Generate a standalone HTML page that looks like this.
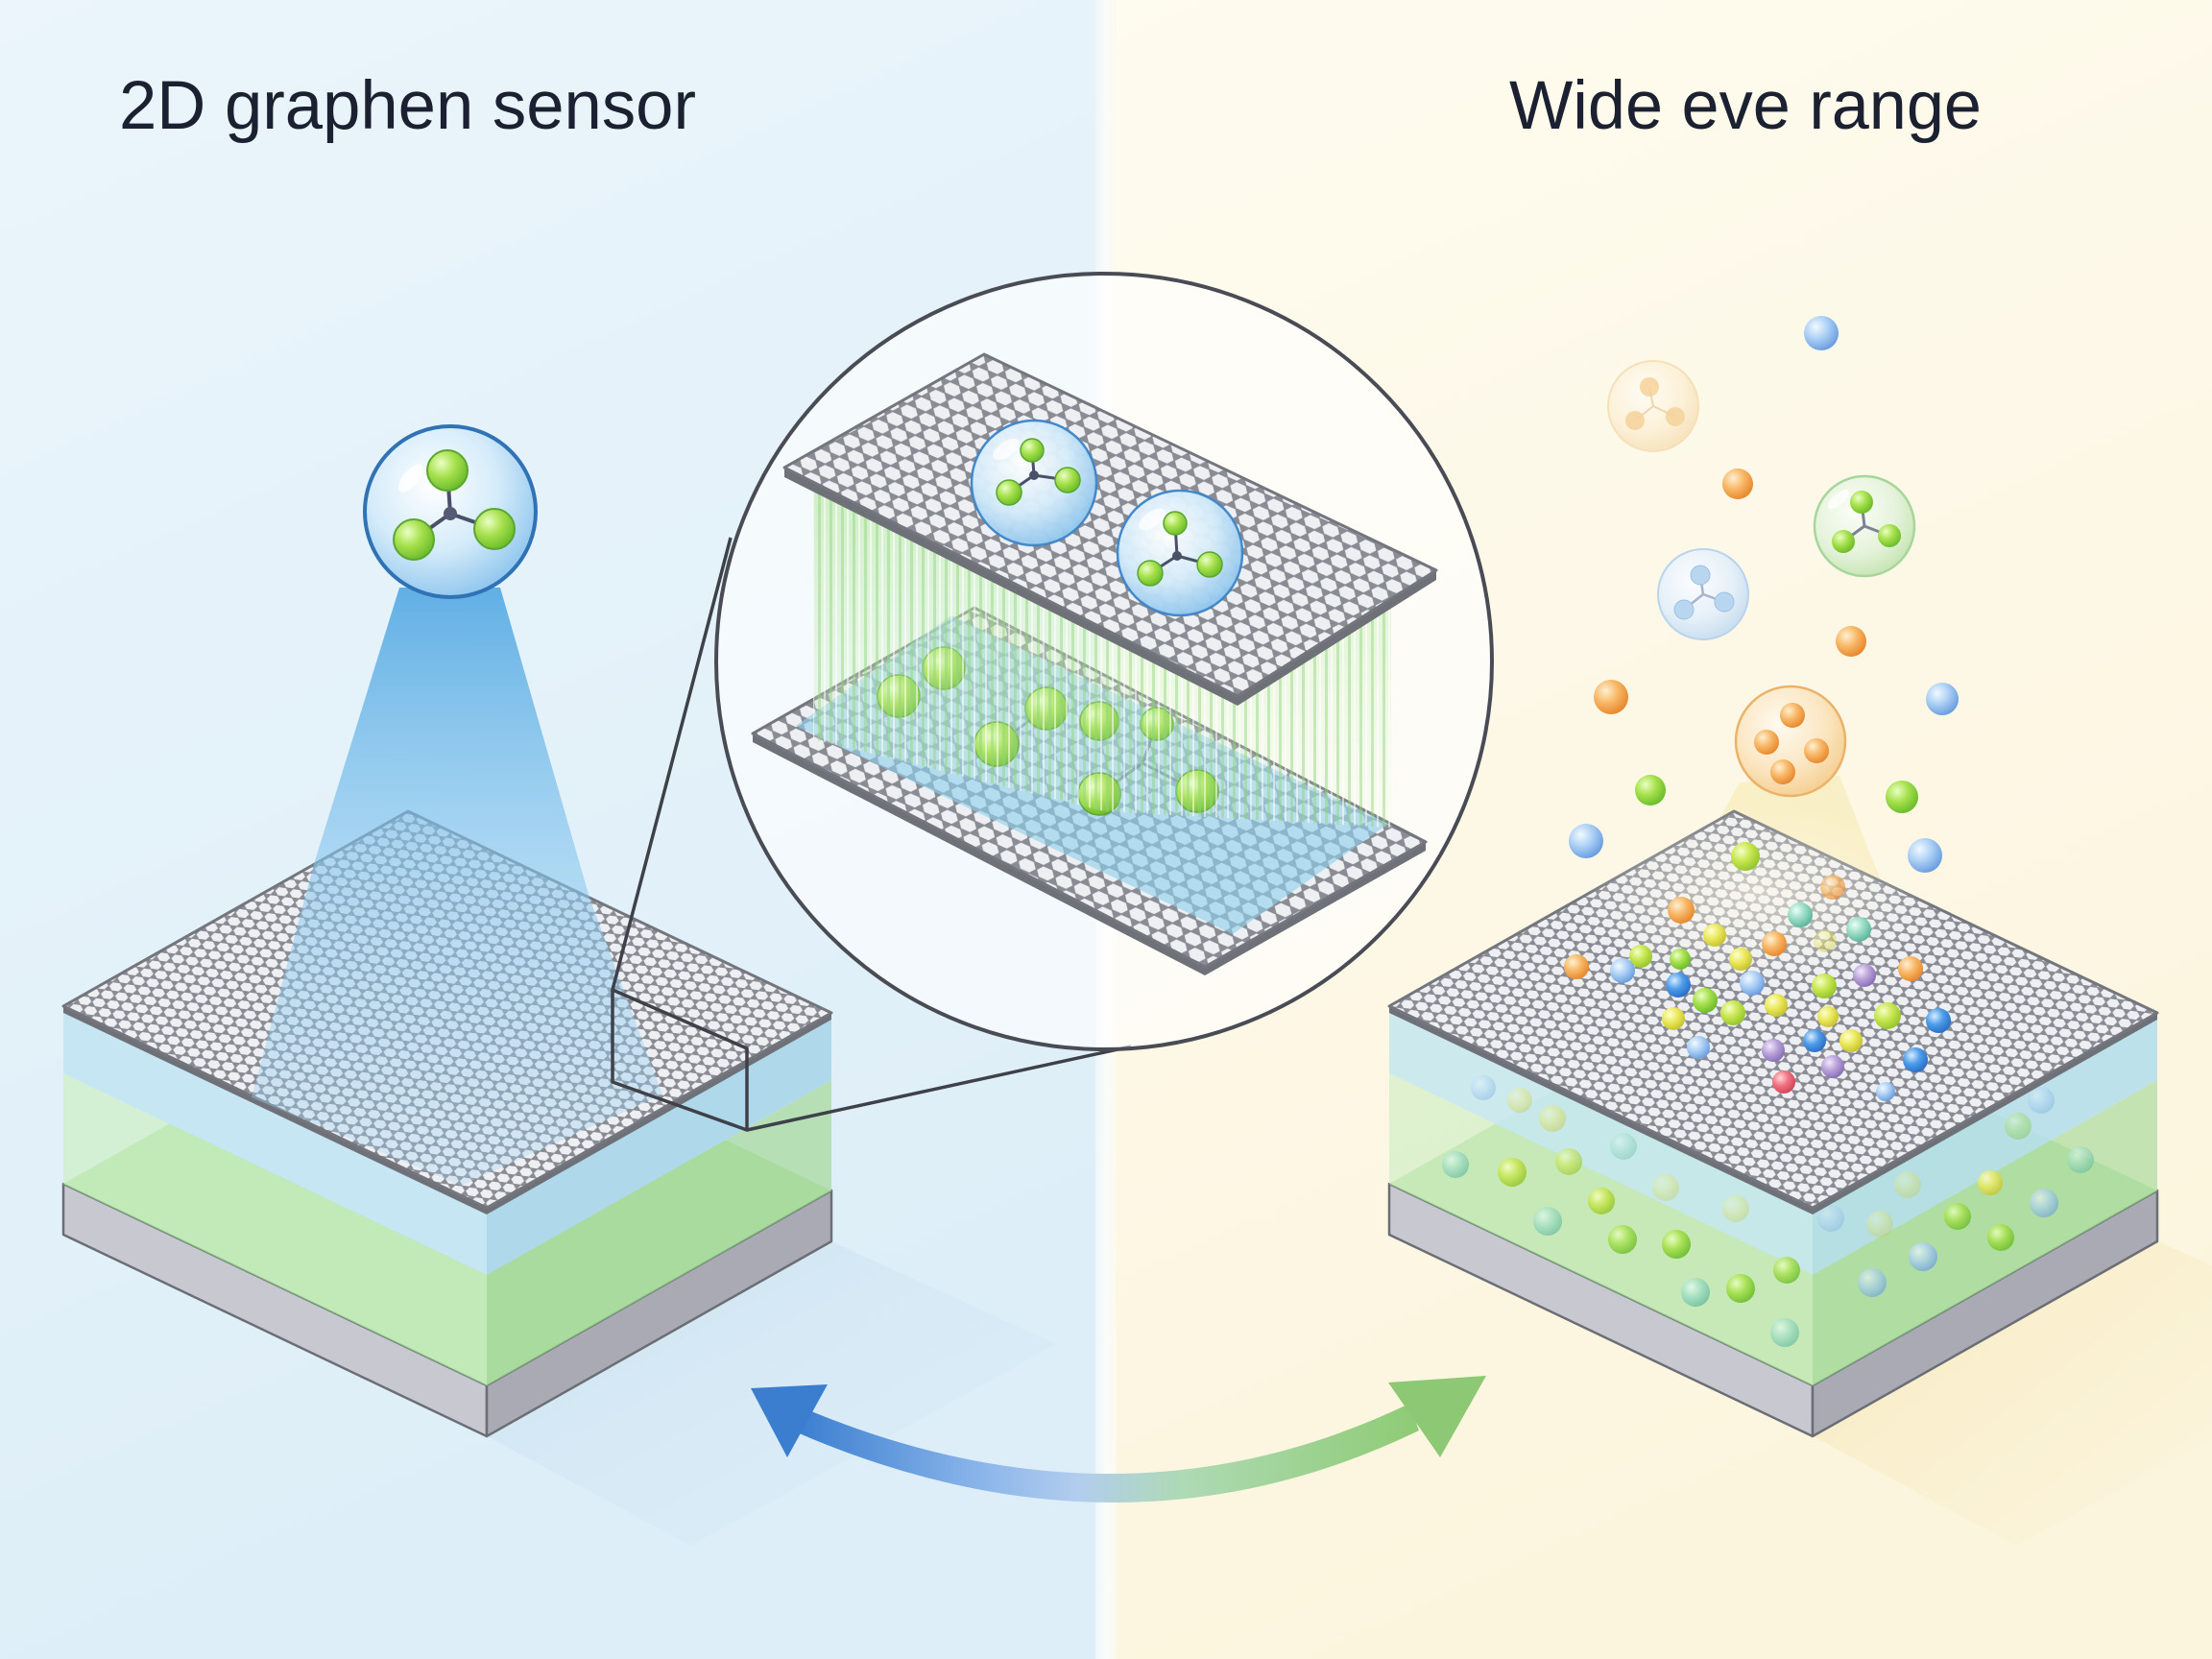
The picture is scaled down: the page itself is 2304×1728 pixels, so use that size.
<!DOCTYPE html>
<html><head><meta charset="utf-8"><style>html,body{margin:0;padding:0;background:#fff}svg{display:block}</style></head>
<body>
<svg width="2304" height="1728" viewBox="0 0 2304 1728" xmlns="http://www.w3.org/2000/svg">
<defs>
<linearGradient id="bgL" x1="0" y1="0" x2="0.3" y2="1"><stop offset="0" stop-color="#ebf5fb"/><stop offset="1" stop-color="#ddeef8"/></linearGradient>
<linearGradient id="bgR" x1="0" y1="0" x2="0.3" y2="1"><stop offset="0" stop-color="#fefbef"/><stop offset="1" stop-color="#fcf5de"/></linearGradient>
<linearGradient id="strip" x1="0" y1="0" x2="1" y2="0"><stop offset="0" stop-color="#eef6fa"/><stop offset="0.5" stop-color="#fbfcfa"/><stop offset="1" stop-color="#fcf9ee"/></linearGradient>
<pattern id="hexA" patternUnits="userSpaceOnUse" width="15" height="18.8" patternTransform="rotate(8)">
<rect width="15" height="18.8" fill="#8a8c94"/>
<g fill="#eeeff2">
<polygon points="0.6,4.7 3.9,0.5 11.1,0.5 14.4,4.7 11.1,8.9 3.9,8.9"/>
<polygon points="-6.9,14.1 -3.6,9.9 3.6,9.9 6.9,14.1 3.6,18.3 -3.6,18.3"/>
<polygon points="8.1,14.1 11.4,9.9 18.6,9.9 21.9,14.1 18.6,18.3 11.4,18.3"/>
</g></pattern>
<pattern id="hexC" patternUnits="userSpaceOnUse" width="15" height="18.8" patternTransform="rotate(24) scale(1.4)">
<rect width="15" height="18.8" fill="#8a8c94"/>
<g fill="#eeeff2">
<polygon points="0.6,4.7 3.9,0.5 11.1,0.5 14.4,4.7 11.1,8.9 3.9,8.9"/>
<polygon points="-6.9,14.1 -3.6,9.9 3.6,9.9 6.9,14.1 3.6,18.3 -3.6,18.3"/>
<polygon points="8.1,14.1 11.4,9.9 18.6,9.9 21.9,14.1 18.6,18.3 11.4,18.3"/>
</g></pattern>
<pattern id="stripes" patternUnits="userSpaceOnUse" width="12" height="10">
<rect x="0" y="0" width="3" height="10" fill="#8fd67a" opacity="0.45"/>
<rect x="6" y="0" width="2" height="10" fill="#ffffff" opacity="0.55"/>
</pattern>
<linearGradient id="stripeTint" x1="0" y1="0" x2="0" y2="1"><stop offset="0" stop-color="#bfe9ac" stop-opacity="0.7"/><stop offset="1" stop-color="#d8f3d0" stop-opacity="0.1"/></linearGradient>
<linearGradient id="beamL" x1="0" y1="612" x2="0" y2="1250" gradientUnits="userSpaceOnUse"><stop offset="0" stop-color="#4fa6e2" stop-opacity="0.88"/><stop offset="0.45" stop-color="#86c6ee" stop-opacity="0.6"/><stop offset="1" stop-color="#a2d4f3" stop-opacity="0.28"/></linearGradient>
<linearGradient id="shL" x1="0" y1="0" x2="1" y2="1"><stop offset="0" stop-color="#b9d5ea" stop-opacity="0.45"/><stop offset="1" stop-color="#c8e0f0" stop-opacity="0"/></linearGradient>
<linearGradient id="shR" x1="0" y1="0" x2="1" y2="1"><stop offset="0" stop-color="#f0da96" stop-opacity="0.45"/><stop offset="1" stop-color="#f6e6b0" stop-opacity="0"/></linearGradient>
<linearGradient id="arrowG" x1="830" y1="0" x2="1480" y2="0" gradientUnits="userSpaceOnUse"><stop offset="0" stop-color="#3a7ed0"/><stop offset="0.3" stop-color="#8cb6ea"/><stop offset="0.45" stop-color="#b2cdee"/><stop offset="0.62" stop-color="#aedab4"/><stop offset="1" stop-color="#8ecb74"/></linearGradient>
<radialGradient id="bub" cx="0.4" cy="0.35" r="0.7"><stop offset="0" stop-color="#ffffff"/><stop offset="0.55" stop-color="#d4ebfa"/><stop offset="1" stop-color="#8ac3ec"/></radialGradient>
<radialGradient id="bubO" cx="0.4" cy="0.35" r="0.7"><stop offset="0" stop-color="#fffaf0"/><stop offset="0.6" stop-color="#fbe6c2"/><stop offset="1" stop-color="#f5cd8e"/></radialGradient>
<radialGradient id="bubG" cx="0.4" cy="0.35" r="0.7"><stop offset="0" stop-color="#fbfdf6"/><stop offset="0.6" stop-color="#e6f3dc"/><stop offset="1" stop-color="#c4e4b0"/></radialGradient>
<radialGradient id="bubB" cx="0.4" cy="0.35" r="0.7"><stop offset="0" stop-color="#fbfdff"/><stop offset="0.6" stop-color="#e6f0f8"/><stop offset="1" stop-color="#c6dcef"/></radialGradient>
<radialGradient id="bubY" cx="0.4" cy="0.35" r="0.7"><stop offset="0" stop-color="#fffdf6"/><stop offset="0.6" stop-color="#fcf0d6"/><stop offset="1" stop-color="#f6dcae"/></radialGradient>
<radialGradient id="glowR" cx="0.5" cy="0.5" r="0.5"><stop offset="0" stop-color="#fffbea" stop-opacity="0.6"/><stop offset="1" stop-color="#fffbea" stop-opacity="0"/></radialGradient>
<radialGradient id="gG" cx="0.35" cy="0.32" r="0.7"><stop offset="0" stop-color="#eaffc4"/><stop offset="0.5" stop-color="#a6e04c"/><stop offset="1" stop-color="#6cbd2c"/></radialGradient>
<radialGradient id="gB" cx="0.35" cy="0.32" r="0.7"><stop offset="0" stop-color="#f2f9ff"/><stop offset="0.5" stop-color="#acd0f5"/><stop offset="1" stop-color="#6c9fe0"/></radialGradient>
<radialGradient id="gBd" cx="0.35" cy="0.32" r="0.7"><stop offset="0" stop-color="#d8ecff"/><stop offset="0.5" stop-color="#4e9ce8"/><stop offset="1" stop-color="#2a70c8"/></radialGradient>
<radialGradient id="gO" cx="0.35" cy="0.32" r="0.7"><stop offset="0" stop-color="#fff0d2"/><stop offset="0.5" stop-color="#f8b867"/><stop offset="1" stop-color="#e8892f"/></radialGradient>
<radialGradient id="gY" cx="0.35" cy="0.32" r="0.7"><stop offset="0" stop-color="#fdffd2"/><stop offset="0.5" stop-color="#ebe95c"/><stop offset="1" stop-color="#c8c430"/></radialGradient>
<radialGradient id="gYG" cx="0.35" cy="0.32" r="0.7"><stop offset="0" stop-color="#f4ffc8"/><stop offset="0.5" stop-color="#c8e650"/><stop offset="1" stop-color="#96c62e"/></radialGradient>
<radialGradient id="gT" cx="0.35" cy="0.32" r="0.7"><stop offset="0" stop-color="#eafff7"/><stop offset="0.5" stop-color="#9adcc6"/><stop offset="1" stop-color="#5eb69c"/></radialGradient>
<radialGradient id="gP" cx="0.35" cy="0.32" r="0.7"><stop offset="0" stop-color="#f1e9fb"/><stop offset="0.5" stop-color="#b9a2d9"/><stop offset="1" stop-color="#8a70b8"/></radialGradient>
<radialGradient id="gR" cx="0.35" cy="0.32" r="0.7"><stop offset="0" stop-color="#ffdada"/><stop offset="0.5" stop-color="#f07282"/><stop offset="1" stop-color="#d04858"/></radialGradient>
</defs>

<!-- background -->
<rect width="2304" height="1728" fill="#fbfcfa"/>
<rect x="0" y="0" width="1143" height="1728" fill="url(#bgL)"/>
<rect x="1141" y="0" width="22" height="1728" fill="url(#strip)"/>
<rect x="1163" y="0" width="1141" height="1728" fill="url(#bgR)"/>

<!-- shadows -->
<polygon points="507,1496 866,1293 1100,1400 720,1610" fill="url(#shL)"/>
<polygon points="1888,1496 2247,1293 2304,1318 2304,1500 2100,1610" fill="url(#shR)"/>

<!-- LEFT BLOCK -->
<g stroke-linejoin="round">
<polygon points="66,1233 507,1443 507,1496 66,1286" fill="#c8c8d1" stroke="#6c6e76" stroke-width="2.5"/>
<polygon points="507,1443 866,1240 866,1293 507,1496" fill="#a9aab4" stroke="#6c6e76" stroke-width="2.5"/>
<polygon points="66,1233 425,1030 866,1240 507,1443" fill="#a9dc9a"/>
<polygon points="66,1118 507,1328 507,1443 66,1233" fill="#cdeec5" opacity="0.7"/>
<polygon points="507,1328 866,1125 866,1240 507,1443" fill="#a9d99f" opacity="0.75"/>
<polyline points="66,1233 507,1443 866,1240" fill="none" stroke="#7fb57a" stroke-width="1.5" opacity="0.7"/>
<polygon points="66,1054 507,1264 507,1328 66,1118" fill="#c6e6f3"/>
<polygon points="507,1264 866,1061 866,1125 507,1328" fill="#afd9ea"/>
<polygon points="66,1048 507,1258 507,1265 66,1055" fill="#6f7179"/>
<polygon points="507,1258 866,1055 866,1062 507,1265" fill="#6f7179"/>
<polygon points="66,1048 425,845 866,1055 507,1258" fill="url(#hexA)" stroke="#74767e" stroke-width="3"/>
</g>
<!-- beam left -->
<polygon points="416,612 521,612 614,935 690,1140 480,1235 262,1143 327,900" fill="url(#beamL)"/>

<!-- zoom box and connectors -->
<g fill="none" stroke="#3f4149" stroke-width="3.5" stroke-linejoin="round">
<path d="M638,1031 L778,1092 L778,1177 L638,1127 Z"/>
<line x1="638" y1="1031" x2="761" y2="560"/>
<line x1="778" y1="1177" x2="1178" y2="1090"/>
</g>

<!-- magnifier circle -->
<circle cx="1150" cy="689" r="404" fill="#ffffff" fill-opacity="0.62" stroke="#4a4c55" stroke-width="4"/>
<!-- lower sheet -->
<g stroke-linejoin="round">
<polygon points="784,764 1255,1007 1255,1016 784,773" fill="#6f7179"/>
<polygon points="1255,1007 1485,877 1485,886 1255,1016" fill="#6f7179"/>
<polygon points="784,764 1015,633 1485,877 1255,1007" fill="url(#hexC)" stroke="#74767e" stroke-width="3"/>
<polygon points="829,756 991,641 1446,858 1284,973" fill="#8fd0ee" opacity="0.62"/>
</g>
<!-- green molecules on lower sheet -->
<g stroke="#5f7a90" stroke-width="3" opacity="0.6">
<line x1="1038" y1="775" x2="1090" y2="738"/>
<line x1="1145" y1="827" x2="1190" y2="795"/>
<line x1="1190" y1="795" x2="1247" y2="824"/>
<line x1="1190" y1="795" x2="1205" y2="754"/>
</g>
<g stroke="#5aa631" stroke-width="1.5">
<circle cx="936" cy="725" r="22" fill="url(#gG)"/>
<circle cx="983" cy="696" r="22" fill="url(#gG)"/>
<circle cx="1038" cy="775" r="23" fill="url(#gG)"/>
<circle cx="1090" cy="738" r="22" fill="url(#gG)"/>
<circle cx="1145" cy="751" r="20" fill="url(#gG)"/>
<circle cx="1205" cy="754" r="17" fill="url(#gG)"/>
<circle cx="1145" cy="827" r="22" fill="url(#gG)"/>
<circle cx="1247" cy="824" r="22" fill="url(#gG)"/>
</g>
<!-- stripes between sheets -->
<polygon points="847,500 1289,726 1449,622 1449,862 1150,845 847,770" fill="url(#stripeTint)"/>
<polygon points="847,500 1289,726 1449,622 1449,862 1150,845 847,770" fill="url(#stripes)"/>
<!-- upper sheet -->
<g stroke-linejoin="round">
<polygon points="817,487 1289,725 1289,735 817,497" fill="#6f7179"/>
<polygon points="1289,725 1496,594 1496,604 1289,735" fill="#6f7179"/>
<polygon points="817,487 1025,369 1496,594 1289,725" fill="url(#hexC)" stroke="#74767e" stroke-width="3"/>
</g>
<!-- bubbles on upper sheet -->
<g>
<circle cx="1077" cy="503" r="65" fill="url(#bub)" stroke="#3f86c8" stroke-width="2.5" opacity="0.97"/>
<ellipse cx="1048" cy="468" rx="16" ry="8" fill="#fff" opacity="0.7" transform="rotate(-35 1048 468)"/>
<g stroke="#4a5068" stroke-width="3"><line x1="1077" y1="495" x2="1075" y2="469"/><line x1="1077" y1="495" x2="1051" y2="513"/><line x1="1077" y1="495" x2="1112" y2="500"/></g>
<circle cx="1077" cy="495" r="5" fill="#4a5068"/>
<g stroke="#5aa631" stroke-width="1.5" fill="url(#gG)"><circle cx="1075" cy="469" r="12"/><circle cx="1051" cy="513" r="13"/><circle cx="1112" cy="500" r="13"/></g>
<circle cx="1229" cy="576" r="65" fill="url(#bub)" stroke="#3f86c8" stroke-width="2.5" opacity="0.97"/>
<ellipse cx="1200" cy="541" rx="16" ry="8" fill="#fff" opacity="0.7" transform="rotate(-35 1200 541)"/>
<g stroke="#4a5068" stroke-width="3"><line x1="1226" y1="579" x2="1224" y2="545"/><line x1="1226" y1="579" x2="1198" y2="597"/><line x1="1226" y1="579" x2="1260" y2="588"/></g>
<circle cx="1226" cy="579" r="5" fill="#4a5068"/>
<g stroke="#5aa631" stroke-width="1.5" fill="url(#gG)"><circle cx="1224" cy="545" r="12"/><circle cx="1198" cy="597" r="13"/><circle cx="1260" cy="588" r="13"/></g>
</g>

<!-- left molecule bubble -->
<circle cx="469" cy="533" r="89" fill="url(#bub)" stroke="#2f72b6" stroke-width="4"/>
<ellipse cx="428" cy="498" rx="18" ry="8" fill="#fff" opacity="0.8" transform="rotate(-50 428 498)"/>
<g stroke="#4a5068" stroke-width="4"><line x1="469" y1="535" x2="466" y2="490"/><line x1="469" y1="535" x2="431" y2="562"/><line x1="469" y1="535" x2="515" y2="551"/></g>
<circle cx="469" cy="535" r="7" fill="#555b75"/>
<g stroke="#5aa631" stroke-width="2" fill="url(#gG)"><circle cx="466" cy="490" r="21"/><circle cx="431" cy="562" r="21"/><circle cx="515" cy="551" r="21"/></g>

<!-- RIGHT BLOCK -->
<polygon points="1812,815 1916,808 1968,940 1860,1000 1776,880" fill="#f6e7a8" opacity="0.5"/>
<g stroke-linejoin="round">
<polygon points="1447,1233 1888,1443 1888,1496 1447,1286" fill="#c8c8d1" stroke="#6c6e76" stroke-width="2.5"/>
<polygon points="1888,1443 2247,1240 2247,1293 1888,1496" fill="#a9aab4" stroke="#6c6e76" stroke-width="2.5"/>
<polygon points="1447,1233 1806,1030 2247,1240 1888,1443" fill="#addd9c"/>
<polygon points="1447,1118 1888,1328 1888,1443 1447,1233" fill="#d2eec4" opacity="0.7"/>
<polygon points="1888,1328 2247,1125 2247,1240 1888,1443" fill="#b2dca4" opacity="0.75"/>
<polyline points="1447,1233 1888,1443 2247,1240" fill="none" stroke="#7fb57a" stroke-width="1.5" opacity="0.7"/>
<polygon points="1447,1054 1888,1264 1888,1328 1447,1118" fill="#c8e8ef" opacity="0.92"/>
<polygon points="1888,1264 2247,1061 2247,1125 1888,1328" fill="#b6deea" opacity="0.92"/>
</g>
<!-- in-layer particles -->
<g>
<circle cx="1545" cy="1133" r="13" fill="url(#gB)" opacity="0.35"/>
<circle cx="1583" cy="1146" r="13" fill="url(#gY)" opacity="0.35"/>
<circle cx="1617" cy="1165" r="14" fill="url(#gY)" opacity="0.4"/>
<circle cx="1516" cy="1213" r="14" fill="url(#gT)" opacity="0.6"/>
<circle cx="1575" cy="1221" r="15" fill="url(#gYG)" opacity="0.85"/>
<circle cx="1634" cy="1210" r="14" fill="url(#gYG)" opacity="0.6"/>
<circle cx="1691" cy="1194" r="14" fill="url(#gT)" opacity="0.35"/>
<circle cx="1668" cy="1251" r="14" fill="url(#gYG)" opacity="0.85"/>
<circle cx="1735" cy="1237" r="14" fill="url(#gY)" opacity="0.3"/>
<circle cx="1808" cy="1259" r="14" fill="url(#gY)" opacity="0.3"/>
<circle cx="1612" cy="1272" r="15" fill="url(#gT)" opacity="0.6"/>
<circle cx="1690" cy="1291" r="15" fill="url(#gG)" opacity="0.8"/>
<circle cx="1746" cy="1296" r="15" fill="url(#gG)" opacity="0.9"/>
<circle cx="1766" cy="1346" r="15" fill="url(#gT)" opacity="0.7"/>
<circle cx="1813" cy="1342" r="15" fill="url(#gG)" opacity="0.9"/>
<circle cx="1861" cy="1323" r="14" fill="url(#gG)" opacity="0.8"/>
<circle cx="1859" cy="1388" r="15" fill="url(#gT)" opacity="0.6"/>
<circle cx="1950" cy="1336" r="15" fill="url(#gB)" opacity="0.6"/>
<circle cx="2003" cy="1309" r="15" fill="url(#gB)" opacity="0.7"/>
<circle cx="2039" cy="1267" r="14" fill="url(#gG)" opacity="0.8"/>
<circle cx="2084" cy="1289" r="14" fill="url(#gG)" opacity="0.85"/>
<circle cx="2073" cy="1232" r="13" fill="url(#gY)" opacity="0.8"/>
<circle cx="2129" cy="1253" r="15" fill="url(#gB)" opacity="0.6"/>
<circle cx="2167" cy="1208" r="14" fill="url(#gT)" opacity="0.5"/>
<circle cx="2102" cy="1173" r="14" fill="url(#gG)" opacity="0.35"/>
<circle cx="2126" cy="1146" r="14" fill="url(#gB)" opacity="0.35"/>
<circle cx="1987" cy="1234" r="14" fill="url(#gY)" opacity="0.3"/>
<circle cx="1907" cy="1269" r="14" fill="url(#gB)" opacity="0.3"/>
<circle cx="1958" cy="1275" r="14" fill="url(#gY)" opacity="0.3"/>
</g>
<g stroke-linejoin="round">
<polygon points="1447,1048 1888,1258 1888,1265 1447,1055" fill="#6f7179"/>
<polygon points="1888,1258 2247,1055 2247,1062 1888,1265" fill="#6f7179"/>
<polygon points="1447,1048 1806,845 2247,1055 1888,1258" fill="url(#hexA)" stroke="#74767e" stroke-width="3"/>
</g>
<ellipse cx="1830" cy="930" rx="190" ry="95" fill="url(#glowR)"/>
<!-- face particles -->
<g>
<circle cx="1909" cy="924" r="13" fill="url(#gO)" opacity="0.7"/>
<circle cx="1751" cy="948" r="14" fill="url(#gO)"/>
<circle cx="1875" cy="953" r="13" fill="url(#gT)"/>
<circle cx="1936" cy="968" r="13" fill="url(#gT)"/>
<circle cx="1786" cy="974" r="12" fill="url(#gY)"/>
<circle cx="1848" cy="983" r="13" fill="url(#gO)"/>
<circle cx="1901" cy="980" r="12" fill="url(#gY)" opacity="0.4"/>
<circle cx="1642" cy="1007" r="13" fill="url(#gO)"/>
<circle cx="1709" cy="996" r="12" fill="url(#gYG)"/>
<circle cx="1750" cy="999" r="11" fill="url(#gG)"/>
<circle cx="1813" cy="999" r="12" fill="url(#gY)"/>
<circle cx="1690" cy="1011" r="13" fill="url(#gB)"/>
<circle cx="1990" cy="1009" r="13" fill="url(#gO)"/>
<circle cx="1748" cy="1026" r="13" fill="url(#gBd)"/>
<circle cx="1825" cy="1024" r="13" fill="url(#gB)"/>
<circle cx="1900" cy="1027" r="13" fill="url(#gYG)"/>
<circle cx="1942" cy="1016" r="12" fill="url(#gP)"/>
<circle cx="1776" cy="1042" r="13" fill="url(#gG)"/>
<circle cx="1805" cy="1055" r="13" fill="url(#gYG)"/>
<circle cx="1850" cy="1047" r="12" fill="url(#gY)"/>
<circle cx="1904" cy="1059" r="11" fill="url(#gY)"/>
<circle cx="1966" cy="1058" r="14" fill="url(#gYG)"/>
<circle cx="2019" cy="1063" r="13" fill="url(#gBd)"/>
<circle cx="1743" cy="1061" r="12" fill="url(#gY)"/>
<circle cx="1890" cy="1084" r="12" fill="url(#gBd)"/>
<circle cx="1928" cy="1084" r="12" fill="url(#gY)"/>
<circle cx="1769" cy="1091" r="12" fill="url(#gB)"/>
<circle cx="1847" cy="1094" r="12" fill="url(#gP)"/>
<circle cx="1995" cy="1104" r="13" fill="url(#gBd)"/>
<circle cx="1909" cy="1111" r="12" fill="url(#gP)"/>
<circle cx="1858" cy="1127" r="12" fill="url(#gR)"/>
<circle cx="1964" cy="1137" r="10" fill="url(#gB)"/>
<circle cx="1818" cy="892" r="15" fill="url(#gYG)"/>
</g>

<!-- floating particles right -->
<g>
<circle cx="1722" cy="423" r="47" fill="url(#bubY)" stroke="#f3dcae" stroke-width="2" opacity="0.8"/>
<g stroke="#e8c898" stroke-width="2" opacity="0.7"><line x1="1722" y1="423" x2="1718" y2="403"/><line x1="1722" y1="423" x2="1703" y2="438"/><line x1="1722" y1="423" x2="1745" y2="434"/></g>
<g fill="#f6d39a" opacity="0.85"><circle cx="1718" cy="403" r="10"/><circle cx="1703" cy="438" r="10"/><circle cx="1745" cy="434" r="10"/></g>

<circle cx="1942" cy="548" r="52" fill="url(#bubG)" stroke="#a8d69a" stroke-width="2.5"/>
<ellipse cx="1915" cy="520" rx="14" ry="6" fill="#fff" opacity="0.7" transform="rotate(-40 1915 520)"/>
<g stroke="#7a8398" stroke-width="3"><line x1="1942" y1="548" x2="1939" y2="523"/><line x1="1942" y1="548" x2="1920" y2="564"/><line x1="1942" y1="548" x2="1968" y2="558"/></g>
<g fill="url(#gG)"><circle cx="1939" cy="523" r="12"/><circle cx="1920" cy="564" r="12"/><circle cx="1968" cy="558" r="12"/></g>

<circle cx="1774" cy="619" r="47" fill="url(#bubB)" stroke="#b9d4ec" stroke-width="2"/>
<g stroke="#a5b6cc" stroke-width="2.5"><line x1="1774" y1="619" x2="1771" y2="599"/><line x1="1774" y1="619" x2="1754" y2="635"/><line x1="1774" y1="619" x2="1796" y2="627"/></g>
<g fill="#b9d6f0" stroke="#9fc0e4" stroke-width="1"><circle cx="1771" cy="599" r="10"/><circle cx="1754" cy="635" r="10"/><circle cx="1796" cy="627" r="10"/></g>

<circle cx="1865" cy="772" r="57" fill="url(#bubO)" stroke="#ebb36a" stroke-width="2.5"/>
<g fill="url(#gO)"><circle cx="1867" cy="745" r="13"/><circle cx="1840" cy="773" r="13"/><circle cx="1892" cy="782" r="13"/><circle cx="1857" cy="804" r="13"/></g>

<circle cx="1897" cy="347" r="18" fill="url(#gB)"/>
<circle cx="1810" cy="504" r="16" fill="url(#gO)"/>
<circle cx="1928" cy="668" r="16" fill="url(#gO)"/>
<circle cx="1678" cy="726" r="18" fill="url(#gO)"/>
<circle cx="2023" cy="728" r="17" fill="url(#gB)"/>
<circle cx="1719" cy="823" r="16" fill="url(#gG)"/>
<circle cx="1981" cy="830" r="17" fill="url(#gG)"/>
<circle cx="1652" cy="876" r="18" fill="url(#gB)"/>
<circle cx="2005" cy="891" r="18" fill="url(#gB)"/>
</g>

<!-- double arrow -->
<path d="M840,1468 Q1170,1605 1468,1462 L1478,1490 Q1170,1639 830,1492 Z" fill="url(#arrowG)"/>
<polygon points="782,1446 862,1442 820,1518" fill="#3b7ed0"/>
<polygon points="1548,1433 1446,1440 1500,1518" fill="#8dc874"/>

<!-- titles -->
<text x="124" y="134" font-family="Liberation Sans, Arial, sans-serif" font-size="71" fill="#1b2130" textLength="601" lengthAdjust="spacingAndGlyphs">2D graphen sensor</text>
<text x="1572" y="134" font-family="Liberation Sans, Arial, sans-serif" font-size="71" fill="#1b2130" textLength="492" lengthAdjust="spacingAndGlyphs">Wide eve range</text>
</svg>
</body></html>
